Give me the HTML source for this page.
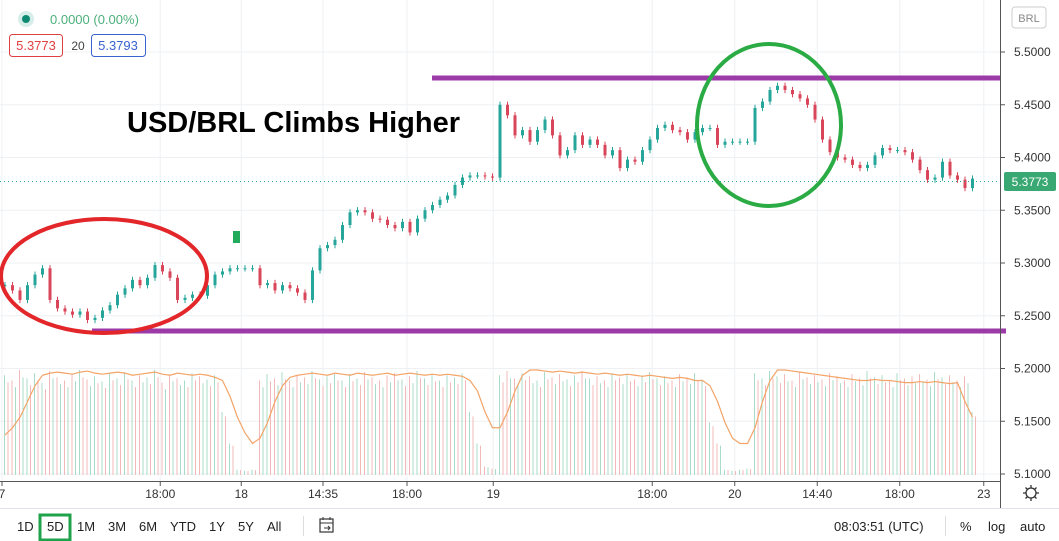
<!DOCTYPE html>
<html><head><meta charset="utf-8">
<style>
body{margin:0;width:1059px;height:541px;overflow:hidden;background:#fff;font-family:"Liberation Sans",sans-serif;}
svg{position:absolute;left:0;top:0}
</style></head>
<body>
<svg id="chart" width="1059" height="541">
 <g id="grid"></g>
 <g id="vol"></g>
 <path id="ma" fill="none" stroke="#f3a468" stroke-width="1.2"/>
 <g id="candles"></g>
 <line x1="0" x2="1000" y1="181.5" y2="181.5" stroke="#26a69a" stroke-dasharray="1,3"/>
 <rect x="233" y="231" width="7" height="12" fill="#22ab5a"/>
 <line x1="432" x2="1001" y1="78" y2="78" stroke="#9c3aa8" stroke-width="5"/>
 <line x1="92" x2="1006" y1="331" y2="331" stroke="#9c3aa8" stroke-width="5"/>
 <ellipse cx="104" cy="276" rx="103" ry="57" fill="none" stroke="#e2262a" stroke-width="4"/>
 <ellipse cx="769" cy="125" rx="72" ry="81" fill="none" stroke="#2aab44" stroke-width="4"/>
 <text x="127" y="132" font-size="29" font-weight="bold" fill="#000" font-family="Liberation Sans,sans-serif">USD/BRL Climbs Higher</text>
 <line x1="1000.5" x2="1000.5" y1="0" y2="508" stroke="#555"/>
 <line x1="0" x2="1000" y1="481.5" y2="481.5" stroke="#555"/>
 <g id="yaxis"></g>
 <g id="xaxis"></g>
 <rect x="1012" y="7" width="34" height="21" rx="3" fill="#fff" stroke="#ccc"/>
 <text x="1029" y="22" font-size="11" fill="#888" text-anchor="middle">BRL</text>
 <rect x="1004" y="172" width="52" height="19" rx="2" fill="#3aa873"/>
 <text x="1030" y="186" font-size="12" fill="#fff" text-anchor="middle">5.3773</text>
 <g><circle cx="1031" cy="493" r="5" fill="none" stroke="#333" stroke-width="1.3"/><path d="M1031 485v3M1031 498v3M1023 493h3M1036 493h3M1025.5 487.5l2 2M1034.5 496.5l2 2M1036.5 487.5l-2 2M1025.5 498.5l2-2" stroke="#333" stroke-width="1.3"/></g>
 <line x1="0" x2="1059" y1="508.5" y2="508.5" stroke="#e0e3eb"/>
 <!-- legend -->
 <circle cx="26" cy="19" r="8" fill="#d7ede9"/>
 <circle cx="26" cy="19" r="4" fill="#0f8a72"/>
 <text x="50" y="24" font-size="13" fill="#4caf7a">0.0000 (0.00%)</text>
 <rect x="9.5" y="34.5" width="53" height="22" rx="3" fill="#fff" stroke="#e04040"/>
 <text x="36" y="50" font-size="13" fill="#e04040" text-anchor="middle">5.3773</text>
 <text x="78" y="50" font-size="12" fill="#444" text-anchor="middle">20</text>
 <rect x="91.5" y="34.5" width="54" height="22" rx="3" fill="#fff" stroke="#3a63d0"/>
 <text x="118" y="50" font-size="13" fill="#3a63d0" text-anchor="middle">5.3793</text>
 <!-- toolbar -->
 <g font-size="13" fill="#222">
  <text x="17" y="531">1D</text>
  <rect x="40" y="515" width="30" height="25" fill="none" stroke="#1fa34a" stroke-width="3"/>
  <text x="47" y="531">5D</text>
  <text x="77" y="531">1M</text>
  <text x="108" y="531">3M</text>
  <text x="139" y="531">6M</text>
  <text x="170" y="531">YTD</text>
  <text x="209" y="531">1Y</text>
  <text x="238" y="531">5Y</text>
  <text x="267" y="531">All</text>
  <line x1="303.5" x2="303.5" y1="516" y2="536" stroke="#ddd"/>
  <g><rect x="320" y="519" width="13" height="13" fill="none" stroke="#333" stroke-width="1.2"/><path d="M320 523h13M323 517v3M330 517v3M324 528h6M328 526l2 2-2 2" fill="none" stroke="#333"/></g>
  <text x="834" y="531">08:03:51 (UTC)</text>
  <line x1="945.5" x2="945.5" y1="516" y2="536" stroke="#ddd"/>
  <text x="960" y="531">%</text>
  <text x="988" y="531">log</text>
  <text x="1020" y="531">auto</text>
 </g>
</svg>
<script>
const closes=[5.279,5.274,5.265,5.279,5.289,5.295,5.265,5.257,5.254,5.251,5.254,5.246,5.248,5.255,5.260,5.270,5.276,5.284,5.279,5.286,5.298,5.292,5.286,5.265,5.267,5.270,5.269,5.279,5.289,5.292,5.295,5.295,5.295,5.295,5.279,5.281,5.274,5.279,5.276,5.272,5.265,5.293,5.314,5.317,5.322,5.336,5.348,5.350,5.348,5.342,5.341,5.336,5.333,5.339,5.329,5.342,5.350,5.355,5.360,5.364,5.374,5.381,5.383,5.383,5.382,5.381,5.450,5.440,5.421,5.426,5.415,5.426,5.436,5.421,5.402,5.407,5.421,5.412,5.417,5.412,5.402,5.407,5.390,5.398,5.396,5.407,5.417,5.428,5.431,5.426,5.424,5.417,5.424,5.428,5.428,5.412,5.415,5.415,5.415,5.415,5.447,5.453,5.464,5.468,5.464,5.460,5.456,5.450,5.436,5.417,5.405,5.400,5.398,5.393,5.390,5.393,5.402,5.409,5.407,5.407,5.405,5.398,5.388,5.379,5.381,5.396,5.383,5.379,5.371,5.380];
const volumes=[0.95,0.9,1.0,0.92,0.97,0.88,0.99,0.93,0.9,0.96,1.0,0.91,0.94,0.89,0.97,0.92,0.98,0.9,0.95,0.93,1.0,0.88,0.96,0.92,0.9,0.97,0.94,0.91,0.95,0.6,0.3,0.05,0.04,0.05,0.9,0.96,0.92,0.98,0.9,0.95,0.93,0.99,0.91,0.94,0.97,0.9,0.96,0.92,0.98,0.93,0.9,0.95,0.97,0.91,0.94,0.99,0.92,0.96,0.9,0.95,0.93,0.97,0.6,0.3,0.08,0.06,0.95,0.99,0.92,0.97,0.94,0.9,0.98,0.93,0.96,0.91,0.95,0.99,0.92,0.94,0.9,0.97,0.93,0.96,0.91,0.95,0.98,0.92,0.94,0.9,0.96,0.93,0.97,0.91,0.5,0.3,0.05,0.04,0.05,0.06,0.97,0.92,0.99,0.94,0.96,0.9,0.98,0.93,0.95,0.91,0.97,0.94,0.9,0.96,0.92,0.99,0.93,0.95,0.9,0.97,0.92,0.94,0.96,0.91,0.98,0.93,0.95,0.9,0.94,0.6];
const volMA=[0.38,0.45,0.55,0.7,0.85,0.95,0.97,0.98,0.97,0.96,0.98,0.99,0.97,0.96,0.97,0.98,0.97,0.95,0.96,0.97,0.98,0.96,0.95,0.97,0.96,0.95,0.96,0.95,0.93,0.9,0.75,0.55,0.4,0.3,0.35,0.5,0.7,0.85,0.93,0.95,0.96,0.97,0.96,0.95,0.97,0.96,0.95,0.97,0.96,0.95,0.96,0.97,0.95,0.96,0.97,0.96,0.95,0.96,0.95,0.96,0.95,0.94,0.9,0.8,0.6,0.45,0.45,0.6,0.8,0.95,1.0,1.0,0.99,0.98,0.99,0.98,0.97,0.98,0.97,0.96,0.97,0.96,0.95,0.96,0.95,0.94,0.95,0.94,0.93,0.92,0.93,0.92,0.9,0.9,0.85,0.7,0.5,0.35,0.3,0.3,0.45,0.7,0.9,1.0,1.0,0.99,0.98,0.97,0.96,0.95,0.94,0.93,0.92,0.91,0.9,0.9,0.91,0.9,0.9,0.89,0.88,0.88,0.89,0.88,0.89,0.88,0.87,0.88,0.7,0.55];
const priceTicks=[5.5,5.45,5.4,5.35,5.3,5.25,5.2,5.15,5.1];
const timeLabels=["7","18:00","18","14:35","18:00","19","18:00","20","14:40","18:00","23"];
const timeIdx=[-0.4,20.7,31.5,42.4,53.6,65.1,86.3,97.3,108.3,119.3,130.5];
const NS="http://www.w3.org/2000/svg";
function px(p){return 52+(5.5-p)*1055;}
function ix(i){return 5+i*7.5;}
function vy(v){return 475-v*105;}
function mk(t,a,parent){const e=document.createElementNS(NS,t);for(const k in a)e.setAttribute(k,a[k]);parent.appendChild(e);return e;}
const grid=document.getElementById('grid'),ya=document.getElementById('yaxis'),xa=document.getElementById('xaxis');
priceTicks.forEach(p=>{
 const l=mk('line',{x1:0,x2:1000,y1:px(p),y2:px(p),stroke:'#eef0f4'},grid);
 
 
 const tk=mk('line',{x1:1000,x2:1005,y1:px(p),y2:px(p),stroke:'#555'},ya);
 
 
 const t=mk('text',{x:1014,y:px(p)+4,'font-size':12,fill:'#333'},ya);
 t.textContent=p.toFixed(4);
 
 
});
timeLabels.forEach((s,k)=>{
 const x=ix(timeIdx[k]);
 const l=mk('line',{x1:x,x2:x,y1:0,y2:481,stroke:'#eef0f4'},grid);
 
 
 const tk=mk('line',{x1:x,x2:x,y1:481,y2:486,stroke:'#555'},xa);
 
 
 const t=mk('text',{x:x,y:498,'font-size':12,fill:'#333','text-anchor':'middle'},xa);
 t.textContent=s;
 
 
});
const vol=document.getElementById('vol'),cg=document.getElementById('candles');
closes.forEach((c,i)=>{
 const o=i>0?closes[i-1]:c;
 const up=c>=o;
 const x=ix(i);
 const vb=mk('rect',{x:x-1,y:vy(volumes[i]),width:1,height:volumes[i]*105,fill:up?'#a9dcc8':'#f3b8b8'},vol);
 
 
 const vb2=mk('rect',{x:x+2.5,y:vy(volumes[i]*0.93),width:1,height:volumes[i]*0.93*105,fill:up?'#f3b8b8':'#a9dcc8'},vol);
 
 
 const col=up?'#26a69a':'#d9465a';
 const hi=Math.max(o,c)+0.003,lo=Math.min(o,c)-0.003;
 const w=mk('line',{x1:x,x2:x,y1:px(hi),y2:px(lo),stroke:col,'stroke-width':1},cg);
 
 
 const b=mk('rect',{x:x-1.5,y:px(Math.max(o,c)),width:3,height:Math.max(1,Math.abs(o-c)*1055),fill:col},cg);
 
 
});
document.getElementById('ma').setAttribute('d',volMA.map((v,i)=>(i?'L':'M')+ix(i)+' '+vy(v)).join(' '));
</script>
</body></html>
